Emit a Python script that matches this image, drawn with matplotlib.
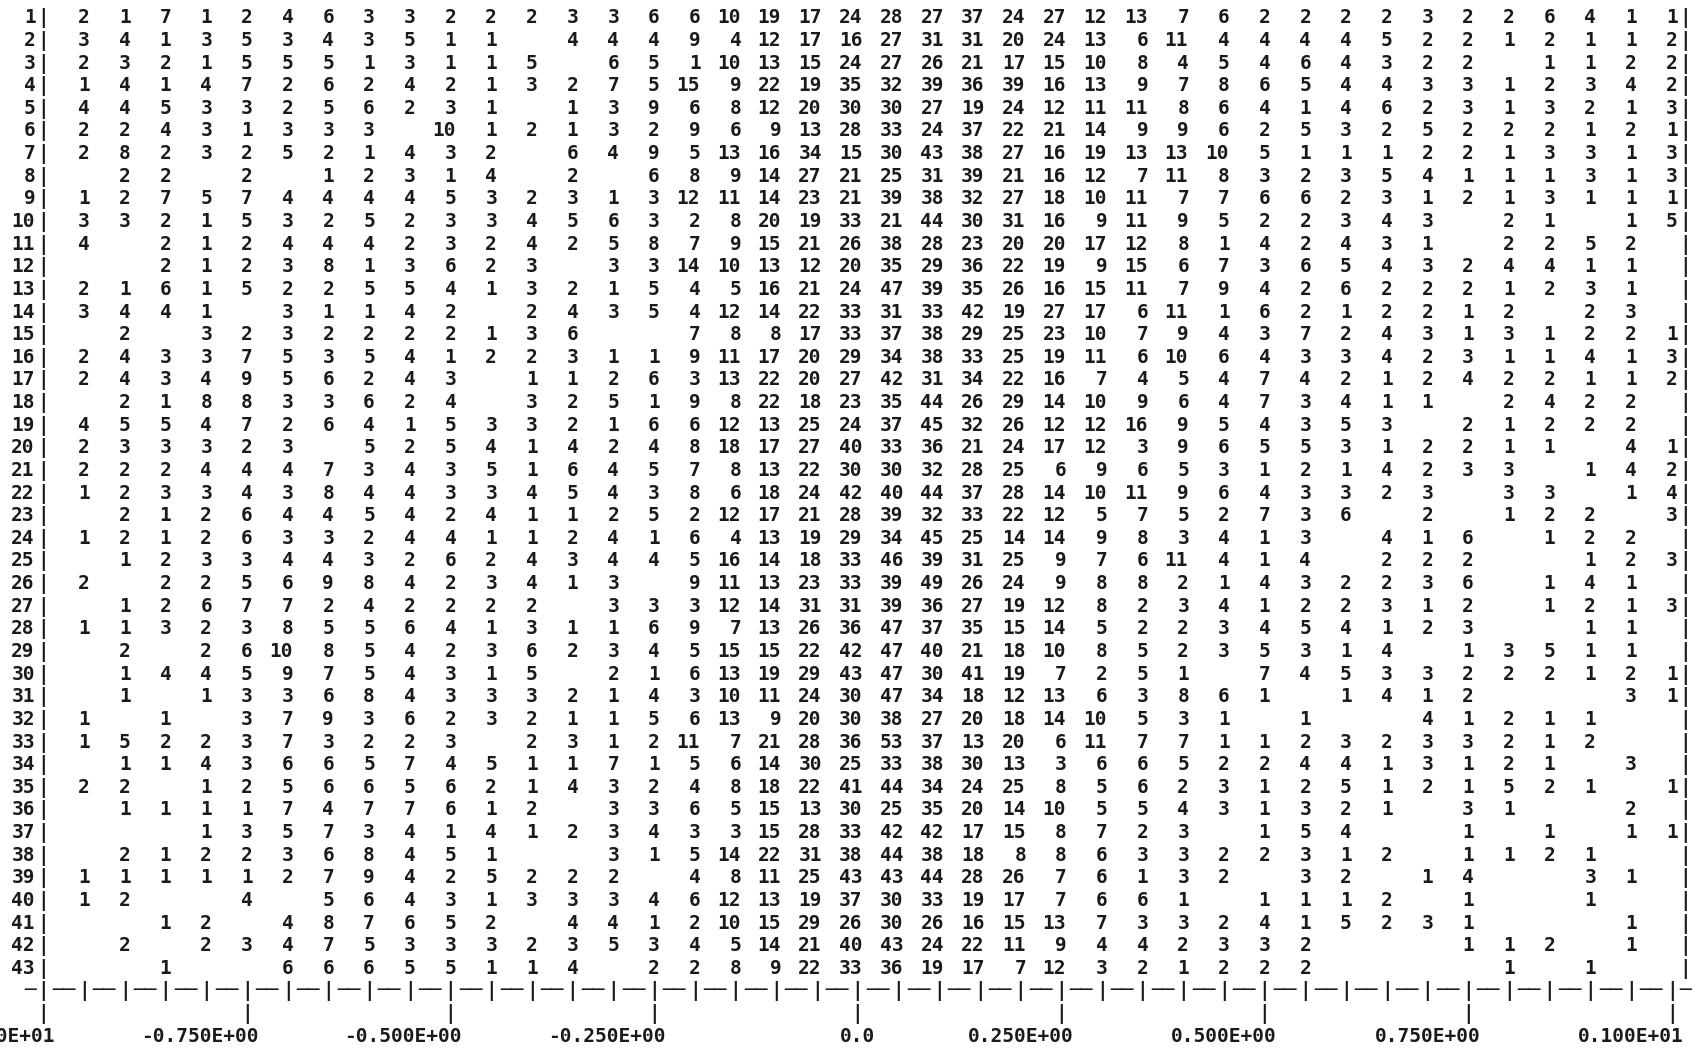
import matplotlib
matplotlib.use("Agg")
import matplotlib.pyplot as plt

# Line-printer frequency table: 43 rows, counts in 40 bins spanning -1..1.
# A zero means the printer left the cell blank.
row_01 = [2,1,7,1,2,4,6,3,3,2, 2,2,3,3,6,6,10,19,17,24, 28,27,37,24,27,12,13,7,6,2, 2,2,2,3,2,2,6,4,1,1]
row_02 = [3,4,1,3,5,3,4,3,5,1, 1,0,4,4,4,9,4,12,17,16, 27,31,31,20,24,13,6,11,4,4, 4,4,5,2,2,1,2,1,1,2]
row_03 = [2,3,2,1,5,5,5,1,3,1, 1,5,0,6,5,1,10,13,15,24, 27,26,21,17,15,10,8,4,5,4, 6,4,3,2,2,0,1,1,2,2]
row_04 = [1,4,1,4,7,2,6,2,4,2, 1,3,2,7,5,15,9,22,19,35, 32,39,36,39,16,13,9,7,8,6, 5,4,4,3,3,1,2,3,4,2]
row_05 = [4,4,5,3,3,2,5,6,2,3, 1,0,1,3,9,6,8,12,20,30, 30,27,19,24,12,11,11,8,6,4, 1,4,6,2,3,1,3,2,1,3]
row_06 = [2,2,4,3,1,3,3,3,0,10, 1,2,1,3,2,9,6,9,13,28, 33,24,37,22,21,14,9,9,6,2, 5,3,2,5,2,2,2,1,2,1]
row_07 = [2,8,2,3,2,5,2,1,4,3, 2,0,6,4,9,5,13,16,34,15, 30,43,38,27,16,19,13,13,10,5, 1,1,1,2,2,1,3,3,1,3]
row_08 = [0,2,2,0,2,0,1,2,3,1, 4,0,2,0,6,8,9,14,27,21, 25,31,39,21,16,12,7,11,8,3, 2,3,5,4,1,1,1,3,1,3]
row_09 = [1,2,7,5,7,4,4,4,4,5, 3,2,3,1,3,12,11,14,23,21, 39,38,32,27,18,10,11,7,7,6, 6,2,3,1,2,1,3,1,1,1]
row_10 = [3,3,2,1,5,3,2,5,2,3, 3,4,5,6,3,2,8,20,19,33, 21,44,30,31,16,9,11,9,5,2, 2,3,4,3,0,2,1,0,1,5]
row_11 = [4,0,2,1,2,4,4,4,2,3, 2,4,2,5,8,7,9,15,21,26, 38,28,23,20,20,17,12,8,1,4, 2,4,3,1,0,2,2,5,2,0]
row_12 = [0,0,2,1,2,3,8,1,3,6, 2,3,0,3,3,14,10,13,12,20, 35,29,36,22,19,9,15,6,7,3, 6,5,4,3,2,4,4,1,1,0]
row_13 = [2,1,6,1,5,2,2,5,5,4, 1,3,2,1,5,4,5,16,21,24, 47,39,35,26,16,15,11,7,9,4, 2,6,2,2,2,1,2,3,1,0]
row_14 = [3,4,4,1,0,3,1,1,4,2, 0,2,4,3,5,4,12,14,22,33, 31,33,42,19,27,17,6,11,1,6, 2,1,2,2,1,2,0,2,3,0]
row_15 = [0,2,0,3,2,3,2,2,2,2, 1,3,6,0,0,7,8,8,17,33, 37,38,29,25,23,10,7,9,4,3, 7,2,4,3,1,3,1,2,2,1]
row_16 = [2,4,3,3,7,5,3,5,4,1, 2,2,3,1,1,9,11,17,20,29, 34,38,33,25,19,11,6,10,6,4, 3,3,4,2,3,1,1,4,1,3]
row_17 = [2,4,3,4,9,5,6,2,4,3, 0,1,1,2,6,3,13,22,20,27, 42,31,34,22,16,7,4,5,4,7, 4,2,1,2,4,2,2,1,1,2]
row_18 = [0,2,1,8,8,3,3,6,2,4, 0,3,2,5,1,9,8,22,18,23, 35,44,26,29,14,10,9,6,4,7, 3,4,1,1,0,2,4,2,2,0]
row_19 = [4,5,5,4,7,2,6,4,1,5, 3,3,2,1,6,6,12,13,25,24, 37,45,32,26,12,12,16,9,5,4, 3,5,3,0,2,1,2,2,2,0]
row_20 = [2,3,3,3,2,3,0,5,2,5, 4,1,4,2,4,8,18,17,27,40, 33,36,21,24,17,12,3,9,6,5, 5,3,1,2,2,1,1,0,4,1]
row_21 = [2,2,2,4,4,4,7,3,4,3, 5,1,6,4,5,7,8,13,22,30, 30,32,28,25,6,9,6,5,3,1, 2,1,4,2,3,3,0,1,4,2]
row_22 = [1,2,3,3,4,3,8,4,4,3, 3,4,5,4,3,8,6,18,24,42, 40,44,37,28,14,10,11,9,6,4, 3,3,2,3,0,3,3,0,1,4]
row_23 = [0,2,1,2,6,4,4,5,4,2, 4,1,1,2,5,2,12,17,21,28, 39,32,33,22,12,5,7,5,2,7, 3,6,0,2,0,1,2,2,0,3]
row_24 = [1,2,1,2,6,3,3,2,4,4, 1,1,2,4,1,6,4,13,19,29, 34,45,25,14,14,9,8,3,4,1, 3,0,4,1,6,0,1,2,2,0]
row_25 = [0,1,2,3,3,4,4,3,2,6, 2,4,3,4,4,5,16,14,18,33, 46,39,31,25,9,7,6,11,4,1, 4,0,2,2,2,0,0,1,2,3]
row_26 = [2,0,2,2,5,6,9,8,4,2, 3,4,1,3,0,9,11,13,23,33, 39,49,26,24,9,8,8,2,1,4, 3,2,2,3,6,0,1,4,1,0]
row_27 = [0,1,2,6,7,7,2,4,2,2, 2,2,0,3,3,3,12,14,31,31, 39,36,27,19,12,8,2,3,4,1, 2,2,3,1,2,0,1,2,1,3]
row_28 = [1,1,3,2,3,8,5,5,6,4, 1,3,1,1,6,9,7,13,26,36, 47,37,35,15,14,5,2,2,3,4, 5,4,1,2,3,0,0,1,1,0]
row_29 = [0,2,0,2,6,10,8,5,4,2, 3,6,2,3,4,5,15,15,22,42, 47,40,21,18,10,8,5,2,3,5, 3,1,4,0,1,3,5,1,1,0]
row_30 = [0,1,4,4,5,9,7,5,4,3, 1,5,0,2,1,6,13,19,29,43, 47,30,41,19,7,2,5,1,0,7, 4,5,3,3,2,2,2,1,2,1]
row_31 = [0,1,0,1,3,3,6,8,4,3, 3,3,2,1,4,3,10,11,24,30, 47,34,18,12,13,6,3,8,6,1, 0,1,4,1,2,0,0,0,3,1]
row_32 = [1,0,1,0,3,7,9,3,6,2, 3,2,1,1,5,6,13,9,20,30, 38,27,20,18,14,10,5,3,1,0, 1,0,0,4,1,2,1,1,0,0]
row_33 = [1,5,2,2,3,7,3,2,2,3, 0,2,3,1,2,11,7,21,28,36, 53,37,13,20,6,11,7,7,1,1, 2,3,2,3,3,2,1,2,0,0]
row_34 = [0,1,1,4,3,6,6,5,7,4, 5,1,1,7,1,5,6,14,30,25, 33,38,30,13,3,6,6,5,2,2, 4,4,1,3,1,2,1,0,3,0]
row_35 = [2,2,0,1,2,5,6,6,5,6, 2,1,4,3,2,4,8,18,22,41, 44,34,24,25,8,5,6,2,3,1, 2,5,1,2,1,5,2,1,0,1]
row_36 = [0,1,1,1,1,7,4,7,7,6, 1,2,0,3,3,6,5,15,13,30, 25,35,20,14,10,5,5,4,3,1, 3,2,1,0,3,1,0,0,2,0]
row_37 = [0,0,0,1,3,5,7,3,4,1, 4,1,2,3,4,3,3,15,28,33, 42,42,17,15,8,7,2,3,0,1, 5,4,0,0,1,0,1,0,1,1]
row_38 = [0,2,1,2,2,3,6,8,4,5, 1,0,0,3,1,5,14,22,31,38, 44,38,18,8,8,6,3,3,2,2, 3,1,2,0,1,1,2,1,0,0]
row_39 = [1,1,1,1,1,2,7,9,4,2, 5,2,2,2,0,4,8,11,25,43, 43,44,28,26,7,6,1,3,2,0, 3,2,0,1,4,0,0,3,1,0]
row_40 = [1,2,0,0,4,0,5,6,4,3, 1,3,3,3,4,6,12,13,19,37, 30,33,19,17,7,6,6,1,0,1, 1,1,2,0,1,0,0,1,0,0]
row_41 = [0,0,1,2,0,4,8,7,6,5, 2,0,4,4,1,2,10,15,29,26, 30,26,16,15,13,7,3,3,2,4, 1,5,2,3,1,0,0,0,1,0]
row_42 = [0,2,0,2,3,4,7,5,3,3, 3,2,3,5,3,4,5,14,21,40, 43,24,22,11,9,4,4,2,3,3, 2,0,0,0,1,1,2,0,1,0]
row_43 = [0,0,1,0,0,6,6,6,5,5, 1,1,4,0,2,2,8,9,22,33, 36,19,17,7,12,3,2,1,2,2, 2,0,0,0,0,1,0,1,0,0]

counts = [row_01, row_02, row_03, row_04, row_05, row_06, row_07, row_08, row_09, row_10,
          row_11, row_12, row_13, row_14, row_15, row_16, row_17, row_18, row_19, row_20,
          row_21, row_22, row_23, row_24, row_25, row_26, row_27, row_28, row_29, row_30,
          row_31, row_32, row_33, row_34, row_35, row_36, row_37, row_38, row_39, row_40,
          row_41, row_42, row_43]

# Horizontal scale: 40 bins between -1 and 1, labelled every fifth edge
x_min, x_max, n_bins = -1.0, 1.0, 40
tick_values = [-1.0, -0.75, -0.5, -0.25, 0.0, 0.25, 0.5, 0.75, 1.0]
tick_labels = ["-0.100E+01", "-0.750E+00", "-0.500E+00", "-0.250E+00", "0.0",
               "0.250E+00", "0.500E+00", "0.750E+00", "0.100E+01"]

fig = plt.figure(figsize=(17.02, 10.51), dpi=100)
fig.patch.set_facecolor("white")
ax = fig.add_axes([0, 0, 1, 1])
ax.set_xlim(-1.0533, 1.0373)
ax.set_ylim(46.72, 0.28)
ax.axis("off")

bin_w = (x_max - x_min) / n_bins
pitch = bin_w / 3.0          # three printer characters per bin
style = dict(family="DejaVu Sans Mono", fontsize=14, fontweight="bold", color="#1a1a1a")


def put(s, x_last, line, **kw):
    """Print string s on a printer line so its last character sits at x_last."""
    xc = x_last - (len(s) - 1) * pitch / 2.0
    opts = dict(style)
    opts.update(kw)
    ax.text(xc, line + 0.31, s, ha="center", va="baseline", **opts)


# table body
for r, row in enumerate(counts, start=1):
    put(str(r), x_min - pitch, r)
    put("|", x_min, r)
    for k, v in enumerate(row):
        if v:
            put(str(v), x_min + (k + 1) * bin_w, r)
    put("|", x_max + pitch, r)

# axis line under the table: "-|--|--| ... --|-"
axis_line = len(counts) + 1
put("\u2500", x_min - pitch, axis_line)
put("|", x_min, axis_line)
for k in range(n_bins):
    edge = x_min + (k + 1) * bin_w
    put("\u2500\u2500", edge - pitch, axis_line)
    put("|", edge, axis_line)
put("\u2500", x_max + pitch, axis_line)

# major ticks and their labels
for v, lab in zip(tick_values, tick_labels):
    put("|", v, axis_line + 1)
    put(lab, v + pitch, axis_line + 2)

fig.savefig("out.png", dpi=100, facecolor="white")
